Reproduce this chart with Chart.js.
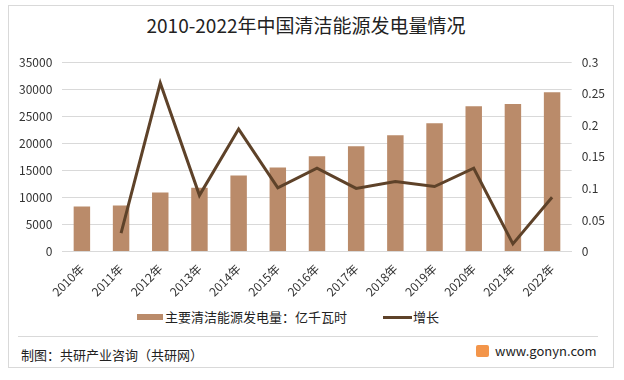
<!DOCTYPE html>
<html>
<head>
<meta charset="utf-8">
<script src="https://cdn.jsdelivr.net/npm/chart.js@4/dist/chart.umd.min.js"></script>
<style>
  body { margin: 0; background: #fff; font-family: "Noto Sans CJK SC", sans-serif; }
  #wrap { position: relative; width: 624px; height: 380px; overflow: hidden; }
  #frame { position: absolute; left: 8px; top: 5px; width: 604px; height: 361px; border: 1px solid #d9d9d9; }
  #title { position: absolute; left: 0; width: 612px; top: 12px; text-align: center; font-size: 19px; line-height: 26px; color: #222; }
  #chartBox { position: absolute; left: 9px; top: 45px; width: 606px; height: 256px; }
  .leg { position: absolute; top: 308px; font-size: 13px; color: #222; line-height: 18px; }
  .sw { position: absolute; }
  #sep { position: absolute; left: 18px; width: 580px; top: 336px; height: 1px; background: #d9d9d9; }
  #src { position: absolute; left: 21px; top: 346px; font-size: 13px; line-height: 18px; color: #222; }
  #site { position: absolute; left: 495px; top: 342px; font-size: 13px; line-height: 18px; color: #222; }
  #logo { position: absolute; left: 476px; top: 345px; width: 13px; height: 12px; background: #f3954a; border-radius: 2px; }
</style>
</head>
<body>
<div id="wrap">
  <div id="frame"></div>
  <div id="title">2010-2022年中国清洁能源发电量情况</div>
  <div id="chartBox"><canvas id="c"></canvas></div>
  <div class="sw" style="left:137px; top:314px; width:26px; height:6px; background:#BA8B6A"></div>
  <div class="leg" style="left:165px">主要清洁能源发电量：亿千瓦时</div>
  <div class="sw" style="left:383px; top:316px; width:29px; height:3px; background:#5E4229"></div>
  <div class="leg" style="left:413px">增长</div>
  <div id="sep"></div>
  <div id="src">制图：共研产业咨询（共研网）</div>
  <div id="logo"></div>
  <div id="site">www.gonyn.com</div>
</div>
<script>
  const years = ['2010年', '2011年', '2012年', '2013年', '2014年', '2015年', '2016年',
                 '2017年', '2018年', '2019年', '2020年', '2021年', '2022年'];
  // 主要清洁能源发电量：亿千瓦时
  const output = [8300, 8500, 10900, 11800, 14050, 15550, 17600, 19450, 21500, 23700, 26850, 27250, 29450];
  // 增长
  const growth = [null, 0.029, 0.267, 0.089, 0.194, 0.101, 0.132, 0.100, 0.111, 0.103, 0.132, 0.012, 0.086];

  const barColor = '#BA8B6A';
  const lineColor = '#5E4229';
  const tickFont = { family: '"Noto Sans CJK SC", sans-serif', size: 12 };

  new Chart(document.getElementById('c'), {
    data: {
      labels: years,
      datasets: [
        {
          type: 'line',
          label: '增长',
          data: growth,
          yAxisID: 'y1',
          borderColor: lineColor,
          backgroundColor: lineColor,
          borderWidth: 3,
          pointRadius: 0,
          tension: 0,
          order: 0,
        },
        {
          type: 'bar',
          label: '主要清洁能源发电量：亿千瓦时',
          data: output,
          yAxisID: 'y',
          backgroundColor: barColor,
          barPercentage: 0.42,
          categoryPercentage: 1,
          order: 1,
        },
      ],
    },
    options: {
      responsive: true,
      maintainAspectRatio: false,
      animation: false,
      layout: { padding: { left: 0, right: 0, top: 0, bottom: 0 } },
      plugins: {
        tooltip: { enabled: false },
        legend: { display: false },
      },
      scales: {
        x: {
          grid: { display: false },
          border: { color: '#d9d9d9' },
          ticks: { color: '#333', font: tickFont, maxRotation: 45, minRotation: 45, padding: 2 },
        },
        y: {
          position: 'left',
          min: 0,
          max: 35000,
          border: { display: false },
          grid: { color: '#d9d9d9', drawTicks: false },
          ticks: { stepSize: 5000, color: '#333', font: tickFont, padding: 10, callback: (v) => String(v) },
        },
        y1: {
          position: 'right',
          min: 0,
          max: 0.3,
          border: { display: false },
          grid: { display: false, drawTicks: false },
          ticks: {
            stepSize: 0.05,
            color: '#333',
            font: tickFont,
            padding: 10,
            callback: (v) => String(Number(v.toFixed(2))),
          },
        },
      },
    },
  });
</script>
</body>
</html>
